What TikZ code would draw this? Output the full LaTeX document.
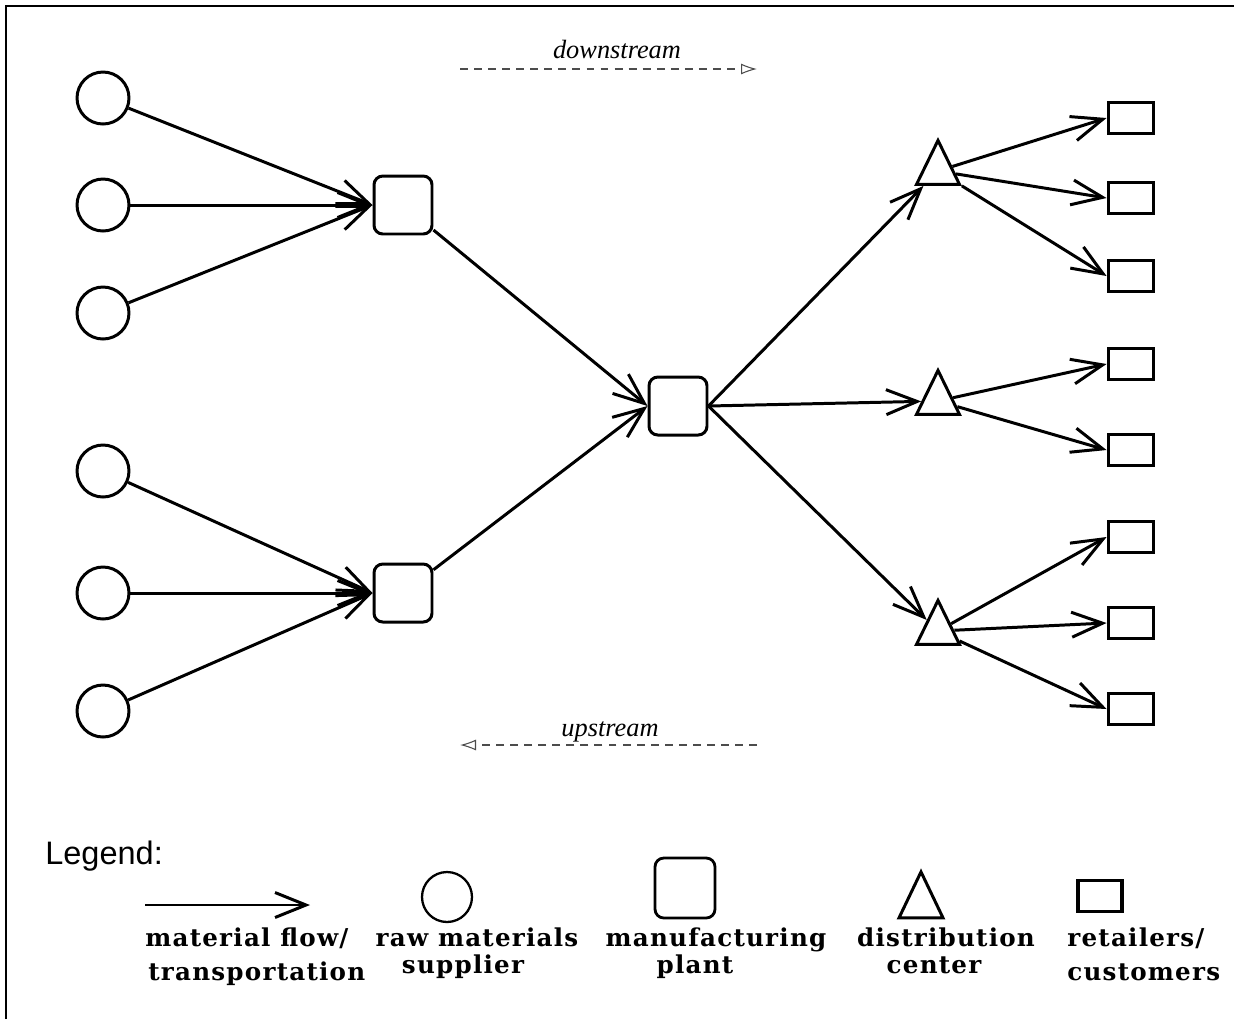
\documentclass[tikz,border=0pt]{standalone}
\usepackage{fontspec}
\setmainfont{Liberation Serif}
\setsansfont{Liberation Sans}
\newfontfamily\legfont[LetterSpace=5]{DejaVu Serif}
\usetikzlibrary{arrows.meta,shapes.geometric}

\begin{document}
\begin{tikzpicture}[
  x=0.02cm, y=-0.02cm,
  supplier/.style={circle, draw, line width=1.7pt, minimum size=1.04cm, inner sep=0pt},
  plant/.style={rectangle, rounded corners=5pt, draw, line width=1.7pt, minimum size=1.16cm, inner sep=0pt},
  dcenter/.style={isosceles triangle, isosceles triangle stretches, shape border rotate=90,
    draw, line width=1.7pt, minimum width=0.86cm, minimum height=0.88cm, inner sep=0pt},
  retailer/.style={rectangle, draw, line width=2.2pt, minimum width=0.9cm, minimum height=0.62cm, inner sep=0pt},
  flow/.style={draw, line width=1.7pt, -{Straight Barb[length=0.62cm,width=0.5cm,line width=1.7pt]}},
  stream/.style={draw, gray!60!black, line width=0.6pt, dash pattern=on 4.5pt off 3.5pt},
  streamlabel/.style={font=\fontsize{15}{15}\selectfont\itshape, inner sep=0pt, anchor=base},
  leglabel/.style={font=\legfont\bfseries\fontsize{14}{14}\selectfont, inner sep=0pt}
]
\useasboundingbox (0,0) rectangle (1234,1019);
\draw[line width=1.2pt] (6,1019) -- (6,6) -- (1234,6);

% raw materials suppliers
\node[supplier] (s1) at (103,98) {};
\node[supplier] (s2) at (103,205) {};
\node[supplier] (s3) at (103,313) {};
\node[supplier] (s4) at (103,471) {};
\node[supplier] (s5) at (103,593) {};
\node[supplier] (s6) at (103,711) {};

% manufacturing plants
\node[plant] (p1) at (403,205) {};
\node[plant] (p2) at (403,593) {};
\node[plant] (p3) at (678,406) {};

% distribution centers
\node[dcenter] (d1) at (938,171) {};
\node[dcenter] (d2) at (938,401) {};
\node[dcenter] (d3) at (938,631) {};

% retailers / customers
\foreach \i/\y in {1/118,2/198,3/276,4/364,5/450,6/537,7/623,8/709}
  \node[retailer] (r\i) at (1131,\y) {};

% material flow
\foreach \s in {s1,s2,s3} \draw[flow] (\s) -- (p1.west);
\foreach \s in {s4,s5,s6} \draw[flow] (\s) -- (p2.west);
\draw[flow] (p1) -- (p3.west);
\draw[flow] (p2) -- (p3.west);
\draw[flow] (p3.east) -- (d1);
\draw[flow] (p3.east) -- (d2);
\draw[flow] (p3.east) -- (d3);
\foreach \r in {r1,r2,r3} \draw[flow] (d1) -- (\r.west);
\foreach \r in {r4,r5} \draw[flow] (d2) -- (\r.west);
\foreach \r in {r6,r7,r8} \draw[flow] (d3) -- (\r.west);

% downstream / upstream
\coordinate (ds1) at (460,69);
\coordinate (ds2) at (757,69);
\coordinate (us1) at (757,745);
\coordinate (us2) at (460,745);
\draw[stream, -{Latex[open,length=0.32cm,width=0.22cm]}] (ds1) -- (ds2);
\draw[stream, -{Latex[open,length=0.32cm,width=0.22cm]}] (us1) -- (us2);
\node[streamlabel] (dslabel) at (617,58) {downstream};
\node[streamlabel] (uslabel) at (610,736) {upstream};

% legend
\node[font=\sffamily\fontsize{18.5}{18.5}\selectfont, inner sep=0pt, anchor=base west] (legend) at (45,864) {Legend:};
\coordinate (lf1) at (145,905);
\coordinate (lf2) at (310,905);
\draw[flow, line width=1.4pt] (lf1) -- (lf2);
\node[circle, draw, line width=1.3pt, minimum size=1cm, inner sep=0pt] (lsup) at (447,897) {};
\node[rectangle, rounded corners=5pt, draw, line width=1.6pt, minimum size=1.2cm, inner sep=0pt] (lplant) at (685,888) {};
\node[dcenter, minimum width=0.88cm, minimum height=0.92cm] (ldc) at (921,904) {};
\node[retailer, minimum width=0.88cm, minimum height=0.62cm] (lret) at (1100,896) {};

\node[leglabel, anchor=base west] (lflow1) at (145,946) {material flow/};
\node[leglabel, anchor=base west] (lflow2) at (148,980) {transportation};
\node[leglabel, anchor=base] (lsup1) at (477,946) {raw materials};
\node[leglabel, anchor=base] (lsup2) at (463,973) {supplier};
\node[leglabel, anchor=base] (lplant1) at (716,946) {manufacturing};
\node[leglabel, anchor=base] (lplant2) at (695,973) {plant};
\node[leglabel, anchor=base] (ldc1) at (946,946) {distribution};
\node[leglabel, anchor=base] (ldc2) at (934,973) {center};
\node[leglabel, anchor=base west] (lret1) at (1067,946) {retailers/};
\node[leglabel, anchor=base west] (lret2) at (1067,980) {customers};
\end{tikzpicture}
\end{document}
